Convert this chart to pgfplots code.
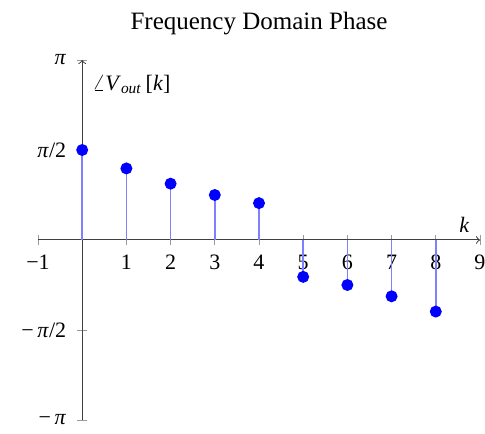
\documentclass[border=0pt]{standalone}
\usepackage{fontspec}
\setmainfont{Liberation Serif}
\usepackage{pgfplots}
\pgfplotsset{compat=1.18}
\begin{document}
\begin{tikzpicture}
\begin{axis}[name=ax, scale only axis, width=221pt, height=180pt,
  axis lines=middle, xmin=-1, xmax=9, ymin=-3.14159, ymax=3.14159,
  xtick={-1,1,2,3,4,5,6,7,8,9},
  xticklabels={−1,1,2,3,4,5,6,7,8,9},
  ytick={-3.14159,-1.5708,1.5708,3.14159},
  yticklabels={−\,\textit{π},−\,\textit{π}/2,\textit{π}/2,\textit{π}},
  tick label style={font=\fontsize{11}{13}\selectfont},
  xticklabel style={yshift=-1.5pt},
  yticklabel style={xshift=-2pt},
  title={Frequency Domain Phase},
  title style={font=\fontsize{12.5}{15}\selectfont, at={(0.5,1)}, anchor=base, yshift=9pt},
  xlabel={\textit{k}},
  ylabel={$\angle$\textit{V}\textsubscript{\textit{out}}\,[\textit{k}]},
  label style={font=\fontsize{11}{13}\selectfont},
  xlabel style={at={(axis description cs:1,0.5)}, anchor=south east, xshift=-1.7pt, yshift=0pt},
  ylabel style={at={(axis description cs:0.1,1)}, anchor=north west, xshift=1.5pt, yshift=-4pt},
  axis line style={black!75, line width=0.5pt, ->},
  major tick style={black!40, line width=0.4pt},
  major tick length=5pt, tick align=center,
]
\addplot+[ycomb, blue!50, line width=0.75pt, mark=*, mark size=2.6pt,
  mark options={fill=blue, draw=blue}] coordinates {
  (0,1.5708) (1,1.2490) (2,0.9828) (3,0.7854) (4,0.6435)
  (5,-0.6435) (6,-0.7854) (7,-0.9828) (8,-1.2490)};
\end{axis}
\pgfresetboundingbox
\path ([xshift=-19pt,yshift=-6.5pt]ax.south west) rectangle ([xshift=2.5pt,yshift=30pt]ax.north east);
\end{tikzpicture}
\end{document}
